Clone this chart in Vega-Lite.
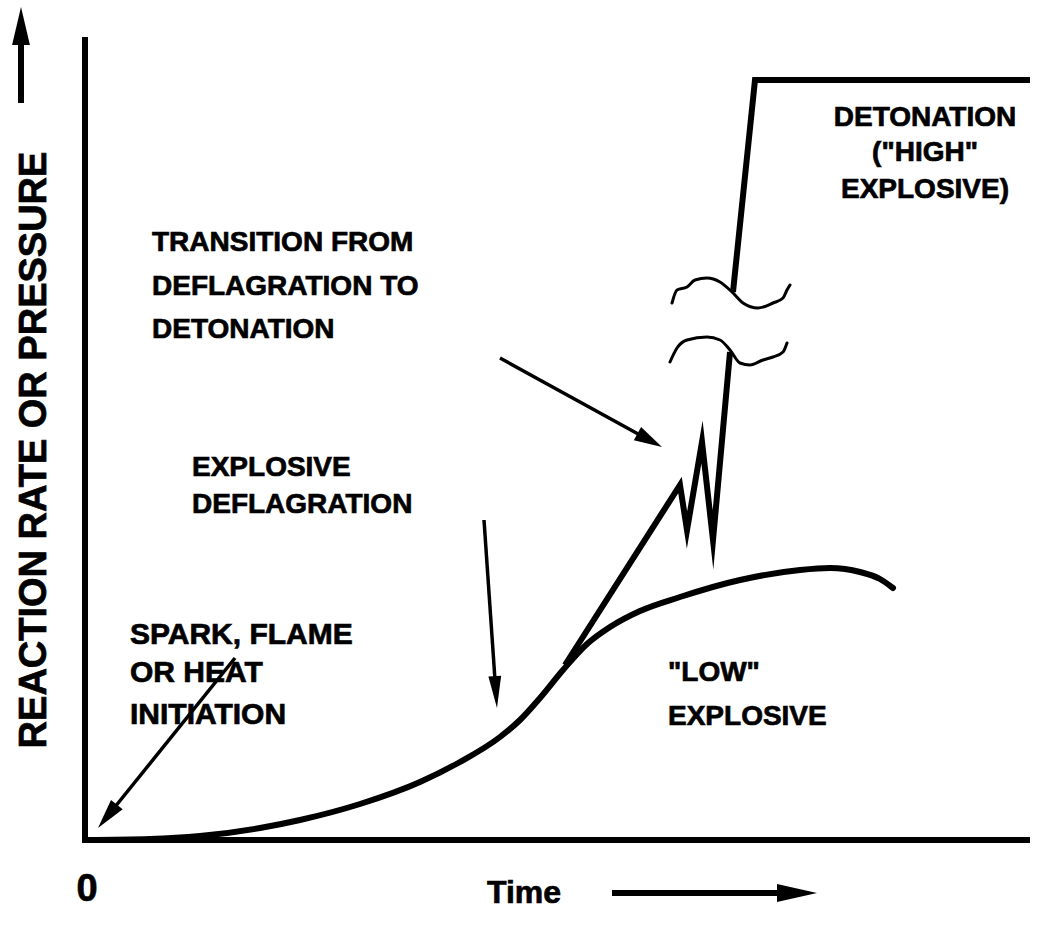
{
  "$schema": "https://vega.github.io/schema/vega-lite/v6.json",
  "width": 1044,
  "height": 939,
  "autosize": {"type": "none"},
  "padding": 0,
  "background": "white",
  "config": {"view": {"stroke": null}, "font": "Liberation Sans"},
  "datasets": {
    "paths": [
      {"id": "axes", "i": 0, "x": 0, "y": 803},
      {"id": "axes", "i": 1, "x": 0, "y": 0},
      {"id": "axes", "i": 2, "x": 945, "y": 0},
      {"id": "det1", "i": 0, "x": 480, "y": 175},
      {"id": "det1", "i": 1, "x": 595, "y": 355},
      {"id": "det1", "i": 2, "x": 602, "y": 310},
      {"id": "det1", "i": 3, "x": 617, "y": 398},
      {"id": "det1", "i": 4, "x": 628, "y": 300},
      {"id": "det1", "i": 5, "x": 645, "y": 488},
      {"id": "det2", "i": 0, "x": 648, "y": 548},
      {"id": "det2", "i": 1, "x": 670, "y": 760},
      {"id": "det2", "i": 2, "x": 945, "y": 760}
    ],
    "low": [
      {"i": 0, "x": 0, "y": 0},
      {"i": 1, "x": 65, "y": 1},
      {"i": 2, "x": 115, "y": 4},
      {"i": 3, "x": 175, "y": 12},
      {"i": 4, "x": 215, "y": 20},
      {"i": 5, "x": 275, "y": 36},
      {"i": 6, "x": 335, "y": 58},
      {"i": 7, "x": 375, "y": 78},
      {"i": 8, "x": 415, "y": 103},
      {"i": 9, "x": 435, "y": 120},
      {"i": 10, "x": 455, "y": 142},
      {"i": 11, "x": 478, "y": 170},
      {"i": 12, "x": 502, "y": 196},
      {"i": 13, "x": 525, "y": 213},
      {"i": 14, "x": 555, "y": 229},
      {"i": 15, "x": 595, "y": 243},
      {"i": 16, "x": 655, "y": 260},
      {"i": 17, "x": 715, "y": 270},
      {"i": 18, "x": 745, "y": 272},
      {"i": 19, "x": 775, "y": 268},
      {"i": 20, "x": 795, "y": 261},
      {"i": 21, "x": 808, "y": 252}
    ],
    "waves": [
      {"id": "w1", "i": 0, "x": 587, "y": 537},
      {"id": "w1", "i": 1, "x": 592, "y": 550},
      {"id": "w1", "i": 2, "x": 602, "y": 553},
      {"id": "w1", "i": 3, "x": 610, "y": 560},
      {"id": "w1", "i": 4, "x": 622, "y": 562},
      {"id": "w1", "i": 5, "x": 635, "y": 558},
      {"id": "w1", "i": 6, "x": 647, "y": 548},
      {"id": "w1", "i": 7, "x": 658, "y": 537},
      {"id": "w1", "i": 8, "x": 673, "y": 532},
      {"id": "w1", "i": 9, "x": 688, "y": 537},
      {"id": "w1", "i": 10, "x": 698, "y": 542},
      {"id": "w1", "i": 11, "x": 702, "y": 550},
      {"id": "w1", "i": 12, "x": 705, "y": 555},
      {"id": "w2", "i": 0, "x": 585, "y": 478},
      {"id": "w2", "i": 1, "x": 592, "y": 492},
      {"id": "w2", "i": 2, "x": 602, "y": 500},
      {"id": "w2", "i": 3, "x": 622, "y": 503},
      {"id": "w2", "i": 4, "x": 635, "y": 500},
      {"id": "w2", "i": 5, "x": 645, "y": 490},
      {"id": "w2", "i": 6, "x": 655, "y": 477},
      {"id": "w2", "i": 7, "x": 665, "y": 475},
      {"id": "w2", "i": 8, "x": 678, "y": 480},
      {"id": "w2", "i": 9, "x": 688, "y": 483},
      {"id": "w2", "i": 10, "x": 698, "y": 488},
      {"id": "w2", "i": 11, "x": 702, "y": 497}
    ],
    "shafts": [
      {"id": "up", "i": 0, "x": -64, "y": 737},
      {"id": "up", "i": 1, "x": -64, "y": 800},
      {"id": "time", "i": 0, "x": 527, "y": -53},
      {"id": "time", "i": 1, "x": 705, "y": -53},
      {"id": "trans", "i": 0, "x": 415, "y": 482},
      {"id": "trans", "i": 1, "x": 555, "y": 405},
      {"id": "down", "i": 0, "x": 399, "y": 320},
      {"id": "down", "i": 1, "x": 410, "y": 160},
      {"id": "spark", "i": 0, "x": 150, "y": 182},
      {"id": "spark", "i": 1, "x": 28.7, "y": 31.5}
    ],
    "heads": [
      {"id": "up", "x": -64, "y": 833},
      {"id": "time", "x": 732, "y": -53},
      {"id": "trans", "x": 577, "y": 393},
      {"id": "down", "x": 412, "y": 132},
      {"id": "spark", "x": 13, "y": 12}
    ],
    "leftText": [
      {"t": "TRANSITION FROM", "x": 67, "y": 597},
      {"t": "DEFLAGRATION TO", "x": 67, "y": 553},
      {"t": "DETONATION", "x": 67, "y": 510},
      {"t": "EXPLOSIVE", "x": 107, "y": 372},
      {"t": "DEFLAGRATION", "x": 107, "y": 335},
      {"t": "\"LOW\"", "x": 583, "y": 167},
      {"t": "EXPLOSIVE", "x": 583, "y": 123}
    ],
    "sparkText": [
      {"t": "SPARK, FLAME", "x": 45, "y": 205},
      {"t": "OR HEAT", "x": 45, "y": 167},
      {"t": "INITIATION", "x": 45, "y": 125}
    ],
    "centerText": [
      {"t": "DETONATION", "x": 840, "y": 722},
      {"t": "(\"HIGH\"", "x": 840, "y": 687},
      {"t": "EXPLOSIVE)", "x": 840, "y": 650}
    ],
    "timeText": [{"t": "Time", "x": 402, "y": -53}],
    "zeroText": [{"t": "0", "x": 2, "y": -50}],
    "yText": [{"t": "REACTION RATE OR PRESSURE", "x": -50, "y": 390}]
  },
  "encoding": {
    "x": {"field": "x", "type": "quantitative", "scale": {"domain": [-85, 959], "nice": false, "zero": false}, "axis": null},
    "y": {"field": "y", "type": "quantitative", "scale": {"domain": [-99, 840], "nice": false, "zero": false}, "axis": null}
  },
  "layer": [
    {
      "data": {"name": "paths"},
      "mark": {"type": "line", "color": "black", "strokeWidth": 6, "strokeJoin": "miter", "strokeMiterLimit": 10},
      "encoding": {"detail": {"field": "id"}, "order": {"field": "i", "type": "quantitative"}}
    },
    {
      "data": {"name": "low"},
      "mark": {"type": "line", "color": "black", "strokeWidth": 6, "interpolate": "monotone", "strokeCap": "round"},
      "encoding": {"order": {"field": "i", "type": "quantitative"}}
    },
    {
      "data": {"name": "waves"},
      "mark": {"type": "line", "color": "black", "strokeWidth": 3, "strokeJoin": "round", "strokeCap": "round", "interpolate": "monotone"},
      "encoding": {"detail": {"field": "id"}, "order": {"field": "i", "type": "quantitative"}}
    },
    {
      "data": {"name": "shafts"},
      "transform": [{"filter": "datum.id == 'up' || datum.id == 'time'"}],
      "mark": {"type": "line", "color": "black", "strokeWidth": 6},
      "encoding": {"detail": {"field": "id"}, "order": {"field": "i", "type": "quantitative"}}
    },
    {
      "data": {"name": "shafts"},
      "transform": [{"filter": "datum.id != 'up' && datum.id != 'time'"}],
      "mark": {"type": "line", "color": "black", "strokeWidth": 3.5},
      "encoding": {"detail": {"field": "id"}, "order": {"field": "i", "type": "quantitative"}}
    },
    {
      "data": {"name": "heads"},
      "transform": [{"filter": "datum.id == 'up'"}],
      "mark": {"type": "point", "filled": true, "color": "black", "opacity": 1, "strokeWidth": 0, "shape": "M0,0L0.47,2L-0.47,2Z", "size": 1444, "angle": 0}
    },
    {
      "data": {"name": "heads"},
      "transform": [{"filter": "datum.id == 'time'"}],
      "mark": {"type": "point", "filled": true, "color": "black", "opacity": 1, "strokeWidth": 0, "shape": "M0,0L0.45,2L-0.45,2Z", "size": 1600, "angle": 90}
    },
    {
      "data": {"name": "heads"},
      "transform": [{"filter": "datum.id == 'trans'"}],
      "mark": {"type": "point", "filled": true, "color": "black", "opacity": 1, "strokeWidth": 0, "shape": "M0,0L0.54,2L-0.54,2Z", "size": 784, "angle": 118.8}
    },
    {
      "data": {"name": "heads"},
      "transform": [{"filter": "datum.id == 'down'"}],
      "mark": {"type": "point", "filled": true, "color": "black", "opacity": 1, "strokeWidth": 0, "shape": "M0,0L0.4,2L-0.4,2Z", "size": 1024, "angle": 176}
    },
    {
      "data": {"name": "heads"},
      "transform": [{"filter": "datum.id == 'spark'"}],
      "mark": {"type": "point", "filled": true, "color": "black", "opacity": 1, "strokeWidth": 0, "shape": "M0,0L0.5,2L-0.5,2Z", "size": 900, "angle": 218.9}
    },
    {
      "data": {"name": "leftText"},
      "mark": {"type": "text", "align": "left", "baseline": "middle", "fontSize": 28, "fontWeight": "bold", "color": "black", "stroke": "black", "strokeWidth": 0.7},
      "encoding": {"text": {"field": "t"}}
    },
    {
      "data": {"name": "sparkText"},
      "mark": {"type": "text", "align": "left", "baseline": "middle", "fontSize": 30, "fontWeight": "bold", "color": "black", "stroke": "black", "strokeWidth": 0.7},
      "encoding": {"text": {"field": "t"}}
    },
    {
      "data": {"name": "centerText"},
      "mark": {"type": "text", "align": "center", "baseline": "middle", "fontSize": 28, "fontWeight": "bold", "color": "black", "stroke": "black", "strokeWidth": 0.7},
      "encoding": {"text": {"field": "t"}}
    },
    {
      "data": {"name": "timeText"},
      "mark": {"type": "text", "align": "left", "baseline": "middle", "fontSize": 32, "fontWeight": "bold", "color": "black", "stroke": "black", "strokeWidth": 0.7},
      "encoding": {"text": {"field": "t"}}
    },
    {
      "data": {"name": "zeroText"},
      "mark": {"type": "text", "align": "center", "baseline": "middle", "fontSize": 38, "fontWeight": "bold", "color": "black", "stroke": "black", "strokeWidth": 0.7},
      "encoding": {"text": {"field": "t"}}
    },
    {
      "data": {"name": "yText"},
      "mark": {"type": "text", "align": "center", "baseline": "middle", "fontSize": 38, "fontWeight": "bold", "color": "black", "angle": 270, "stroke": "black", "strokeWidth": 0.7},
      "encoding": {"text": {"field": "t"}}
    }
  ]
}
